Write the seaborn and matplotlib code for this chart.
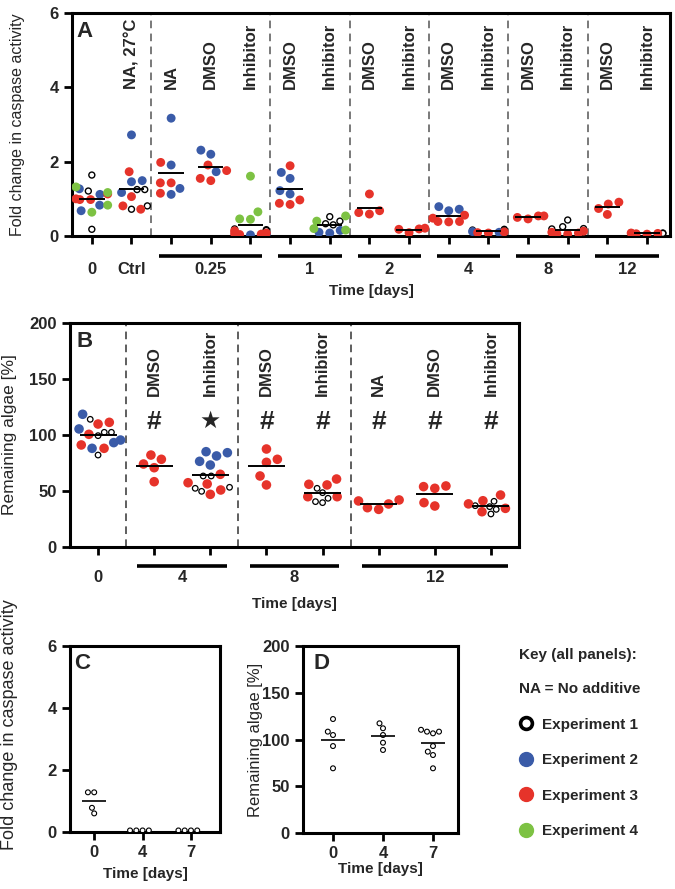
import warnings
warnings.filterwarnings("ignore")
import numpy as np
import pandas as pd
import matplotlib
matplotlib.use("Agg")
import matplotlib.pyplot as plt
import matplotlib.transforms as mtransforms
from matplotlib.lines import Line2D
import seaborn as sns

# ---------------- data ----------------
EXPS = ["Experiment 1", "Experiment 2", "Experiment 3", "Experiment 4"]
COLORS = ["#000000", "#3a5ba8", "#e6332a", "#7dc243"]

# Panel A: fold change in caspase activity
A_CATS = ["0", "Ctrl", "NA_0.25", "DMSO_0.25", "Inh_0.25", "DMSO_1", "Inh_1",
          "DMSO_2", "Inh_2", "DMSO_4", "Inh_4", "DMSO_8", "Inh_8", "DMSO_12", "Inh_12"]
A_TOP_LABELS = ["", "NA, 27°C", "NA", "DMSO", "Inhibitor", "DMSO", "Inhibitor",
                "DMSO", "Inhibitor", "DMSO", "Inhibitor", "DMSO", "Inhibitor", "DMSO", "Inhibitor"]
A_GROUP_LABELS = ["0", "Ctrl", "0.25", "1", "2", "4", "8", "12"]
A_GROUP_SIZES = [1, 1, 3, 2, 2, 2, 2, 2]
A_EXP1 = [[1.64, 1.21, 0.18], [1.25, 1.25, 0.72, 0.81], [], [], [0.17, 0.15, 0.19, 0.12],
          [], [0.52, 0.40, 0.33, 0.30], [], [], [], [0.16, 0.18, 0.14], [],
          [0.43, 0.25, 0.20, 0.19], [], [0.09, 0.08, 0.07]]
A_EXP2 = [[1.27, 1.12, 0.83, 0.68], [2.72, 1.46, 1.49, 1.17], [3.17, 1.91, 1.28, 1.12],
          [2.20, 2.31, 1.73], [0.05, 0.03], [1.71, 1.55, 1.22, 1.13], [0.15, 0.10, 0.08],
          [], [], [0.72, 0.68, 0.79], [0.12, 0.10], [], [], [], []]
A_EXP3 = [[1.13, 0.98, 0.98, 1.00], [1.73, 1.06, 0.81, 0.72], [1.98, 1.43, 1.43, 1.15],
          [1.91, 1.76, 1.49, 1.55], [0.06, 0.05, 0.08, 0.04, 0.14], [1.89, 0.97, 0.85, 0.88],
          [], [1.13, 0.68, 0.59, 0.63], [0.19, 0.09, 0.18, 0.21], [0.56, 0.39, 0.38, 0.39, 0.48],
          [0.08, 0.09, 0.11], [0.54, 0.46, 0.50, 0.54], [0.08, 0.05, 0.10, 0.13, 0.06],
          [0.91, 0.86, 0.74, 0.58], [0.06, 0.05, 0.07, 0.08]]
A_EXP4 = [[1.17, 1.32, 0.83, 0.64], [], [], [], [1.61, 0.65, 0.46, 0.45], [],
          [0.40, 0.54, 0.16, 0.20], [], [], [], [], [], [], [], []]

# Panel B: remaining algae
B_CATS = ["0", "DMSO_4", "Inh_4", "DMSO_8", "Inh_8", "NA_12", "DMSO_12", "Inh_12"]
B_TOP_LABELS = ["", "DMSO", "Inhibitor", "DMSO", "Inhibitor", "NA", "DMSO", "Inhibitor"]
B_SIGNS = ["", "#", "★", "#", "#", "#", "#", "#"]
B_GROUP_LABELS = ["0", "4", "8", "12"]
B_GROUP_SIZES = [1, 2, 2, 3]
B_EXP1 = [[114.0, 102.4, 99.4, 102.4, 82.1], [], [63.4, 63.4, 53.3, 49.7, 52.4], [],
          [52.4, 48.5, 43.5, 39.6, 40.5], [], [], [40.8, 36.0, 33.6, 29.5, 36.9]]
B_EXP2 = [[118.5, 105.4, 93.2, 95.5, 88.1], [], [85.1, 81.3, 84.2, 76.5, 73.2],
          [], [], [], [], []]
B_EXP3 = [[111.3, 109.8, 100.6, 91.1, 88.1], [82.1, 78.3, 74.1, 70.8, 58.3],
          [64.9, 57.4, 56.3, 50.9, 47.0], [87.5, 78.3, 75.6, 63.4, 55.4],
          [60.7, 56.0, 55.4, 44.9, 44.9], [38.4, 42.0, 41.1, 33.6, 35.1],
          [53.9, 52.4, 54.5, 36.6, 39.6], [46.4, 41.3, 38.5, 34.5, 31.5]]
B_EXP4 = [[], [], [], [], [], [], [], []]

# Panels C and D
CD_DAYS = ["0", "4", "7"]
C_EXP1 = [[1.28, 1.28, 0.60, 0.78], [0.05, 0.05, 0.05, 0.05], [0.05, 0.05, 0.05, 0.05]]
D_EXP1 = [[121.9, 104.8, 108.4, 93.0, 69.2], [117.3, 112.0, 104.8, 96.6, 88.8],
          [108.4, 106.6, 108.4, 110.4, 93.0, 87.0, 83.4, 69.2]]


def long_df(cats, *exp_lists):
    rows = []
    for exp, lists in zip(EXPS, exp_lists):
        for cat, vals in zip(cats, lists):
            for v in vals:
                rows.append((cat, exp, v))
    return pd.DataFrame(rows, columns=["cat", "exp", "val"])


# ---------------- style ----------------
sns.set_style("white")
plt.rcParams["font.family"] = ["Liberation Sans", "DejaVu Sans"]
plt.rcParams["axes.edgecolor"] = "black"
plt.rcParams["xtick.bottom"] = True
plt.rcParams["ytick.left"] = True

PALETTE = dict(zip(EXPS, COLORS))

fig = plt.figure(figsize=(6.75, 8.89), dpi=100)
W, H = 675.0, 889.0


def add_ax(left, top, right, bottom):
    return fig.add_axes([left / W, 1 - bottom / H, (right - left) / W, (bottom - top) / H])


axA = add_ax(72, 13, 670, 236)
axB = add_ax(70, 323, 519, 547)
axC = add_ax(70, 646, 220, 832)
axD = add_ax(303, 646, 458, 833)


def swarm(ax, df, order, size, ring_size, ring_lw):
    n0 = len(ax.collections)
    sns.swarmplot(data=df, x="cat", y="val", hue="exp", order=order, hue_order=EXPS,
                  palette=PALETTE, size=size, linewidth=ring_lw, ax=ax, legend=False, zorder=4)
    for coll in ax.collections[n0:]:
        fc = np.array(coll.get_facecolors())
        if fc.size == 0:
            continue
        ring = np.all(fc[:, :3] < 0.05, axis=1)
        new_fc = fc.copy()
        new_fc[ring] = [1, 1, 1, 1]
        ec = fc.copy()
        ec[~ring, 3] = 0.0
        sizes = np.where(ring, ring_size ** 2, (size + ring_lw) ** 2)
        coll.set_facecolors(new_fc)
        coll.set_edgecolors(ec)
        coll.set_sizes(sizes)


def mean_lines(ax, df, order, hw, lw):
    means = df.groupby("cat")["val"].mean().reindex(order)
    xs = np.arange(len(order))
    ok = ~means.isna().values
    ax.hlines(means.values[ok], xs[ok] - hw, xs[ok] + hw, color="black", lw=lw, zorder=5)


def style_box(ax):
    for s in ax.spines.values():
        s.set_visible(True)
        s.set_linewidth(2.2)
        s.set_color("black")
    ax.tick_params(axis="both", which="major", direction="out", length=6, width=2,
                   labelsize=12, left=True, bottom=True, top=False, right=False,
                   color="black", pad=3.5)
    for t in ax.get_yticklabels():
        t.set_fontweight("bold")
    for t in ax.get_xticklabels():
        t.set_fontweight("bold")


def group_axis(ax, sizes, labels, bar_y, lab_y, skip_first_sep, sep_color):
    trans = mtransforms.blended_transform_factory(ax.transData, ax.transAxes)
    start = 0
    bounds = []
    for n, lab in zip(sizes, labels):
        idx = np.arange(start, start + n)
        if n > 1:
            ax.plot([idx[0] - 0.3, idx[-1] + 0.3], [bar_y, bar_y], transform=trans,
                    clip_on=False, color="black", lw=2.6, solid_capstyle="butt")
        ax.text(idx.mean(), lab_y, lab, transform=trans, ha="center", va="center",
                fontsize=12, fontweight="bold")
        start += n
        bounds.append(start - 0.5)
    seps = bounds[:-1]
    if skip_first_sep:
        seps = seps[1:]
    for b in seps:
        ax.axvline(b, color=sep_color, lw=1.1, ls=(0, (5, 3.5)), zorder=1)


# ---------------- Panel A ----------------
dfA = long_df(A_CATS, A_EXP1, A_EXP2, A_EXP3, A_EXP4)
swarm(axA, dfA, A_CATS, 5.4, 4.3, 1.0)
mean_lines(axA, dfA, A_CATS, 0.32, 1.4)
axA.set_xlim(-0.5, len(A_CATS) - 0.42)
axA.set_ylim(0, 6)
axA.set_yticks([0, 2, 4, 6])
axA.set_xticks(range(len(A_CATS)))
axA.set_xticklabels([""] * len(A_CATS))
axA.set_xlabel("")
style_box(axA)
axA.set_ylabel("Fold change in caspase activity", fontsize=11.5)
axA.yaxis.set_label_coords(-0.079, 0.5)
group_axis(axA, A_GROUP_SIZES, A_GROUP_LABELS, -0.09, -0.152, True, "#555555")
transA = mtransforms.blended_transform_factory(axA.transData, axA.transAxes)
for i, lab in enumerate(A_TOP_LABELS):
    if lab:
        axA.text(i, 0.66, lab, transform=transA, rotation=90, ha="center", va="bottom",
                 fontsize=12, fontweight="bold")
axA.text(0.5, -0.247, "Time [days]", transform=axA.transAxes, ha="center", va="center",
         fontsize=11, fontweight="bold")
axA.text(0.008, 0.965, "A", transform=axA.transAxes, ha="left", va="top",
         fontsize=16, fontweight="bold")

# ---------------- Panel B ----------------
dfB = long_df(B_CATS, B_EXP1, B_EXP2, B_EXP3, B_EXP4)
swarm(axB, dfB, B_CATS, 6.0, 4.0, 0.9)
mean_lines(axB, dfB, B_CATS, 0.33, 1.4)
axB.set_xlim(-0.5, len(B_CATS) - 0.5)
axB.set_ylim(0, 200)
axB.set_yticks([0, 50, 100, 150, 200])
axB.set_xticks(range(len(B_CATS)))
axB.set_xticklabels([""] * len(B_CATS))
axB.set_xlabel("")
style_box(axB)
axB.set_ylabel("Remaining algae [%]", fontsize=12.5)
axB.yaxis.set_label_coords(-0.118, 0.5)
group_axis(axB, B_GROUP_SIZES, B_GROUP_LABELS, -0.085, -0.138, False, "#333333")
transB = mtransforms.blended_transform_factory(axB.transData, axB.transAxes)
for i, (lab, sig) in enumerate(zip(B_TOP_LABELS, B_SIGNS)):
    if lab:
        axB.text(i, 0.674, lab, transform=transB, rotation=90, ha="center", va="bottom",
                 fontsize=12, fontweight="bold")
    if sig:
        axB.text(i, 0.56, sig, transform=transB, ha="center", va="center",
                 fontsize=19 if sig == "#" else 17, fontweight="bold")
axB.text(0.5, -0.254, "Time [days]", transform=axB.transAxes, ha="center", va="center",
         fontsize=11, fontweight="bold")
axB.text(0.014, 0.965, "B", transform=axB.transAxes, ha="left", va="top",
         fontsize=16, fontweight="bold")

# ---------------- Panel C ----------------
dfC = long_df(CD_DAYS, C_EXP1)
swarm(axC, dfC, CD_DAYS, 3.5, 3.5, 0.8)
mean_lines(axC, dfC, CD_DAYS[:1], 0.25, 1.2)
axC.set_xlim(-0.5, 2.6)
axC.set_ylim(0, 6)
axC.set_yticks([0, 2, 4, 6])
axC.set_xlabel("")
style_box(axC)
axC.set_ylabel("Fold change in caspase activity", fontsize=13)
axC.yaxis.set_label_coords(-0.347, 0.575)
axC.text(0.5, -0.226, "Time [days]", transform=axC.transAxes, ha="center", va="center",
         fontsize=11, fontweight="bold")
axC.text(0.03, 0.96, "C", transform=axC.transAxes, ha="left", va="top",
         fontsize=16, fontweight="bold")

# ---------------- Panel D ----------------
dfD = long_df(CD_DAYS, D_EXP1)
swarm(axD, dfD, CD_DAYS, 3.5, 3.5, 0.8)
mean_lines(axD, dfD, CD_DAYS, 0.24, 1.2)
axD.set_xlim(-0.6, 2.5)
axD.set_ylim(0, 200)
axD.set_yticks([0, 50, 100, 150, 200])
axD.set_xlabel("")
style_box(axD)
axD.set_ylabel("Remaining algae [%]", fontsize=12)
axD.yaxis.set_label_coords(-0.258, 0.5)
axD.text(0.5, -0.193, "Time [days]", transform=axD.transAxes, ha="center", va="center",
         fontsize=11, fontweight="bold")
axD.text(0.07, 0.96, "D", transform=axD.transAxes, ha="left", va="top",
         fontsize=16, fontweight="bold")

# ---------------- Key ----------------
handles = [Line2D([], [], ls="none", marker="o", markersize=8.5, markerfacecolor="white",
                  markeredgecolor="black", markeredgewidth=2.6)]
for c in COLORS[1:]:
    handles.append(Line2D([], [], ls="none", marker="o", markersize=10,
                          markerfacecolor=c, markeredgecolor=c))
leg = fig.legend(handles, EXPS, loc="upper left", bbox_to_anchor=(519 / W, 1 - 648 / H),
                 frameon=False, title="Key (all panels):\nNA = No additive", alignment="left",
                 prop={"weight": "bold", "size": 11},
                 title_fontproperties={"weight": "bold", "size": 11},
                 handlelength=0.95, handletextpad=0.55, labelspacing=1.4,
                 borderpad=0, borderaxespad=0)
leg.get_title().set_linespacing(2.85)

fig.savefig("out.png", dpi=100)
